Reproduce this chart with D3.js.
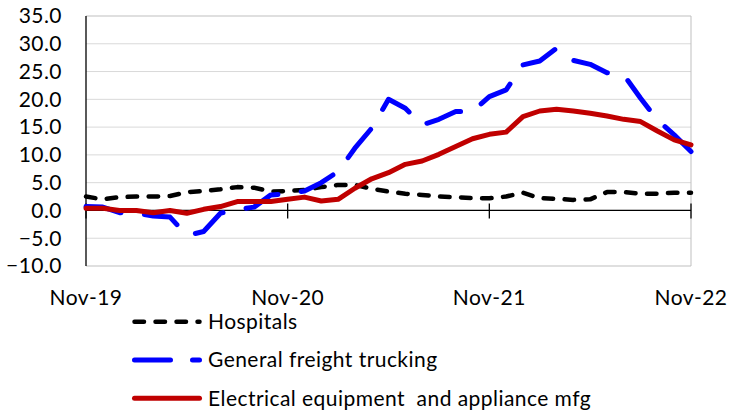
<!DOCTYPE html>
<html><head><meta charset="utf-8">
<script src="https://cdn.jsdelivr.net/npm/d3@7"></script>
<style>body{margin:0;background:#fff}svg{display:block}</style>
</head><body><svg id="c" width="739" height="413"></svg>
<script>
const months = d3.range(37); // Nov-19 .. Nov-22 monthly
const xTickLabels = ["Nov-19","Nov-20","Nov-21","Nov-22"];
const xTickIdx = [0,12,24,36];
const yTicks = [-10,-5,0,5,10,15,20,25,30,35];
const hospitals = [2.5,2.0,2.4,2.5,2.5,2.6,3.3,3.5,3.8,4.2,4.1,3.4,3.5,3.7,4.2,4.6,4.6,3.9,3.4,3.0,2.8,2.5,2.4,2.2,2.2,2.5,3.2,2.2,2.1,1.9,2.0,3.3,3.3,3.0,3.0,3.2,3.2];
const trucking = [0.7,0.6,-0.4,-0.5,-1.0,-1.2,-4.5,-3.8,-0.5,0.2,0.6,2.8,3.0,3.5,5.0,7.0,11.2,14.8,20.0,18.4,15.4,16.4,17.8,17.8,20.5,21.7,26.2,26.9,29.2,27.0,26.3,24.8,24.4,20.2,16.3,13.6,10.6];
const electrical = [0.4,0.4,0.0,0.0,-0.4,0.0,-0.5,0.2,0.7,1.6,1.6,1.6,2.0,2.4,1.7,2.0,4.0,5.7,6.8,8.3,8.9,10.1,11.5,12.9,13.7,14.1,16.9,17.9,18.2,17.9,17.5,17.0,16.4,16.0,14.3,12.7,11.8];
const seriesNames = ["Hospitals","General freight trucking","Electrical equipment  and appliance mfg"];

const svg = d3.select("#c");
const font = "Lato, 'Open Sans', sans-serif";
const fs = 21, ls = "0.45px";
const x = d3.scaleLinear().domain([0,36]).range([86,691]);
const y = d3.scaleLinear().domain([-10,35]).range([266,16]);

// gridlines
svg.append("g").selectAll("line").data(yTicks).join("line")
  .attr("x1",86).attr("x2",691).attr("y1",d=>y(d)).attr("y2",d=>y(d))
  .attr("stroke",d=>d===35||d===-10?"#bfbfbf":"#d9d9d9").attr("stroke-width",1);
svg.append("line").attr("x1",691).attr("x2",691).attr("y1",16).attr("y2",266).attr("stroke","#bfbfbf");

// y axis labels
svg.append("g").selectAll("text").data(yTicks).join("text")
  .attr("x",62).attr("y",d=>y(d)).attr("dy","0.35em").attr("text-anchor","end")
  .attr("font-family",font).attr("font-size",fs).attr("letter-spacing",ls).attr("fill","#000")
  .text(d=>d3.format(".1f")(d));

// axes
svg.append("line").attr("x1",86).attr("x2",86).attr("y1",16).attr("y2",266).attr("stroke","#000").attr("stroke-width",1.3);
svg.append("line").attr("x1",86).attr("x2",691).attr("y1",y(0)).attr("y2",y(0)).attr("stroke","#000").attr("stroke-width",1.3);
svg.append("g").selectAll("line").data(xTickIdx).join("line")
  .attr("x1",d=>x(d)).attr("x2",d=>x(d)).attr("y1",y(0)-7).attr("y2",y(0)+8)
  .attr("stroke","#000").attr("stroke-width",1.3);

// x labels
svg.append("g").selectAll("text").data(xTickIdx).join("text")
  .attr("x",d=>x(d)).attr("y",305).attr("text-anchor","middle")
  .attr("font-family",font).attr("font-size",fs).attr("letter-spacing",ls).attr("fill","#000")
  .text((d,i)=>xTickLabels[i]);

const line = d3.line().x((d,i)=>x(months[i])).y(d=>y(d));
const styles = [
  {data:hospitals,color:"#000000",w:4.5,dash:[9.5,11.5],fit:false},
  {data:trucking,color:"#0000ff",w:5,dash:[36,22],fit:true},
  {data:electrical,color:"#c00000",w:5,dash:null,fit:false}
];
styles.forEach(s=>{
  const p = svg.append("path").attr("d",line(s.data)).attr("fill","none")
    .attr("stroke",s.color).attr("stroke-width",s.w)
    .attr("stroke-linecap","round").attr("stroke-linejoin","round");
  if (s.dash) {
    let da = s.dash;
    if (s.fit) {
      const L = p.node().getTotalLength();
      const per = s.dash[0]+s.dash[1];
      const n = Math.round((L - s.dash[0])/per);
      const g = (L - s.dash[0])/n - s.dash[0];
      da = [s.dash[0], g];
    }
    p.attr("stroke-dasharray",da.join(","));
  }
});

// legend
const legY = [321.7,360,398.3];
styles.forEach((s,i)=>{
  svg.append("line").attr("x1",134.5).attr("x2",199.5).attr("y1",legY[i]).attr("y2",legY[i])
    .attr("stroke",s.color).attr("stroke-width",s.w).attr("stroke-linecap","round")
    .attr("stroke-dasharray",s.dash?s.dash.join(","):null);
  svg.append("text").attr("x",208).attr("y",legY[i]).attr("dy","0.35em")
    .attr("font-family",font).attr("font-size",fs).attr("letter-spacing",ls).attr("fill","#000")
    .style("white-space","pre").text(seriesNames[i]);
});
</script></body></html>
